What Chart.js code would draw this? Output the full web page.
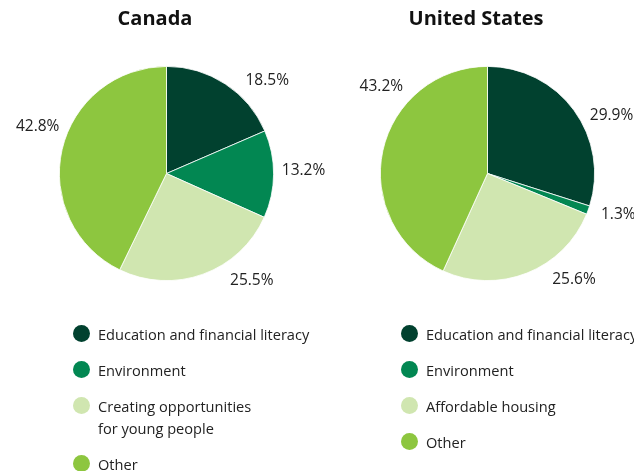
<!DOCTYPE html>
<html>
<head>
<meta charset="utf-8">
<script src="https://cdn.jsdelivr.net/npm/chart.js@4.4.1/dist/chart.umd.min.js"></script>
<style>
  html, body { margin: 0; padding: 0; background: #fff; }
  body { width: 634px; height: 471px; overflow: hidden; position: relative; font-family: 'Open Sans', 'Noto Sans', sans-serif; color: #222; }
  canvas { position: absolute; left: 0; top: 0; }
  .title { position: absolute; top: 4px; font-weight: bold; font-size: 20px; transform: translateX(-50%); white-space: nowrap; color: #111; }
  .legend { position: absolute; top: 323px; font-size: 14.6px; line-height: 22px; }
  .legend .item { position: relative; margin-bottom: 14px; white-space: nowrap; }
  .legend .dot { position: absolute; left: -25px; top: 2px; width: 17px; height: 17px; border-radius: 50%; }
</style>
</head>
<body>
<canvas id="canadaChart" width="634" height="471"></canvas>
<canvas id="usChart" width="634" height="471"></canvas>
<div class="title" style="left:155px">Canada</div>
<div class="title" style="left:476px">United States</div>
<div class="legend" id="canadaLegend" style="left:98px"></div>
<div class="legend" id="usLegend" style="left:426px"></div>

<script>
// Share of giving by area, percent
const canadaCategories = ['Education and financial literacy', 'Environment', ['Creating opportunities', 'for young people'], 'Other'];
const canadaValues = [18.5, 13.2, 25.5, 42.8];

const usCategories = ['Education and financial literacy', 'Environment', 'Affordable housing', 'Other'];
const usValues = [29.9, 1.3, 25.6, 43.2];

const sliceColors = ['#01412f', '#028752', '#d0e6b0', '#8dc63f'];

// Small angle tweaks (degrees) so the percent labels sit clear of each other
const canadaLabelNudge = [14, -1.5, -18.5, 7];
const usLabelNudge = [11, -2.5, -17.5, 27];

// Writes the percentage next to each slice
const percentLabels = {
    id: 'percentLabels',
    afterDatasetsDraw(chart, args, opts) {
        const ctx = chart.ctx;
        const meta = chart.getDatasetMeta(0);
        const values = chart.data.datasets[0].data;
        ctx.save();
        ctx.font = '15.5px "Open Sans", "Noto Sans", sans-serif';
        ctx.fillStyle = '#222';
        ctx.textAlign = 'center';
        ctx.textBaseline = 'middle';
        meta.data.forEach((arc, i) => {
            const mid = (arc.startAngle + arc.endAngle) / 2 + (opts.nudge[i] || 0) * Math.PI / 180;
            const dist = arc.outerRadius * opts.distance;
            ctx.fillText(values[i].toFixed(1) + '%', arc.x + Math.cos(mid) * dist, arc.y + Math.sin(mid) * dist);
        });
        ctx.restore();
    }
};

const makePie = (canvasId, labels, values, padding, nudge) => {
    return new Chart(document.getElementById(canvasId), {
        type: 'pie',
        data: {
            labels: labels,
            datasets: [{
                data: values,
                backgroundColor: sliceColors,
                borderColor: '#ffffff',
                borderWidth: 0.8
            }]
        },
        options: {
            responsive: false,
            animation: false,
            layout: { padding: padding },
            plugins: {
                legend: { display: false },
                tooltip: { enabled: false },
                percentLabels: { nudge: nudge, distance: 1.28 }
            }
        },
        plugins: [percentLabels]
    });
};

const buildLegend = (el, labels) => {
    labels.forEach((label, i) => {
        const item = document.createElement('div');
        item.className = 'item';
        const dot = document.createElement('span');
        dot.className = 'dot';
        dot.style.background = sliceColors[i];
        item.appendChild(dot);
        const text = document.createElement('span');
        text.innerHTML = Array.isArray(label) ? label.join('<br>') : label;
        item.appendChild(text);
        el.appendChild(item);
    });
};

makePie('canadaChart', canadaCategories, canadaValues, { left: 59, top: 66, right: 360, bottom: 190 }, canadaLabelNudge);
makePie('usChart', usCategories, usValues, { left: 380, top: 66, right: 39, bottom: 190 }, usLabelNudge);

buildLegend(document.getElementById('canadaLegend'), canadaCategories);
buildLegend(document.getElementById('usLegend'), usCategories);
</script>
</body>
</html>
